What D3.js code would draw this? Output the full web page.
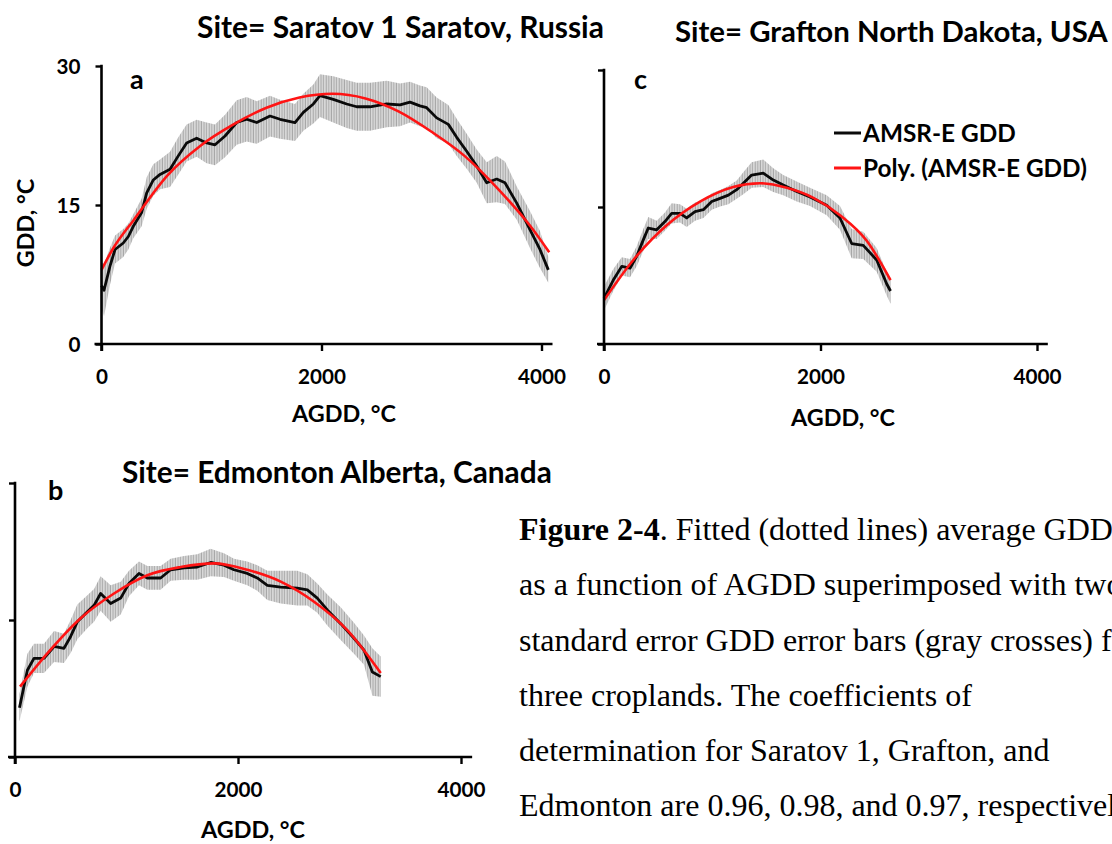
<!DOCTYPE html>
<html>
<head>
<meta charset="utf-8">
<script src="https://cdn.jsdelivr.net/npm/d3@7"></script>
<style>
  html, body { margin: 0; padding: 0; background: #fff; }
  svg { display: block; }
  .lbl { font-family: Lato, "Open Sans", sans-serif; font-weight: 700; fill: #000; }
  .cap { font-family: "Liberation Serif", "DejaVu Serif", serif; fill: #000; }
</style>
</head>
<body>
<svg id="fig" width="1112" height="844"></svg>
<script>
// ---- Saratov 1 (panel a): mean GDD, error half-width, and poly fit ----
const satAgdd = [0, 23, 77, 123, 198, 244, 289, 365, 411, 471, 532, 623, 698, 774, 865, 956, 1032, 1123, 1229, 1320, 1411, 1532, 1623, 1759, 1835, 1926, 1986, 2107, 2229, 2320, 2441, 2593, 2714, 2805, 2895, 2956, 3047, 3153, 3229, 3320, 3411, 3502, 3593, 3668, 3775, 3895, 3986, 4062];
const satGdd  = [6.3, 5.8, 8.4, 10.2, 10.9, 11.6, 12.7, 14.2, 16.3, 17.7, 18.3, 18.85, 20.3, 21.7, 22.2, 21.7, 21.5, 22.45, 23.9, 24.25, 23.9, 24.6, 24.25, 23.9, 25.0, 25.9, 26.8, 26.4, 25.9, 25.6, 25.6, 25.9, 25.8, 26.1, 25.7, 25.5, 24.4, 23.7, 22.3, 20.8, 19.2, 17.4, 17.8, 17.4, 15.2, 12.35, 10.2, 8.0];
const satErr  = [2.5, 2.8, 2.0, 1.5, 1.5, 1.4, 1.3, 1.5, 1.7, 1.7, 1.6, 1.9, 2.0, 2.0, 2.0, 2.2, 2.2, 2.3, 2.4, 2.4, 2.3, 2.2, 2.1, 2.0, 2.0, 2.1, 2.3, 2.5, 2.6, 2.6, 2.6, 2.5, 2.3, 2.2, 2.2, 2.2, 2.2, 2.1, 2.0, 1.9, 1.8, 2.2, 2.5, 2.3, 1.8, 2.0, 2.0, 1.4];
const satFitAgdd = [0, 100, 300, 600, 900, 1200, 1500, 1800, 2100, 2400, 2700, 3000, 3300, 3600, 3900, 4070];
const satFitGdd  = [8.0, 10.2, 13.5, 18.2, 21.4, 23.7, 25.5, 26.6, 27.0, 26.5, 25.1, 22.9, 20.3, 16.8, 12.7, 9.9];

// ---- Grafton (panel c) ----
const grfAgdd = [0, 86, 164, 240, 302, 363, 409, 487, 563, 625, 702, 764, 841, 918, 995, 1072, 1149, 1226, 1287, 1364, 1471, 1564, 1656, 1780, 1903, 2057, 2180, 2288, 2395, 2519, 2611, 2647];
const grfGdd  = [5.0, 7.0, 8.5, 8.3, 9.6, 11.4, 12.7, 12.5, 13.4, 14.3, 14.3, 13.8, 14.5, 14.7, 15.6, 15.95, 16.3, 16.9, 17.6, 18.5, 18.7, 17.95, 17.4, 16.7, 16.1, 15.2, 13.8, 11.0, 10.8, 9.2, 6.6, 5.8];
const grfErr  = [1.3, 1.2, 1.0, 1.0, 1.1, 1.2, 1.2, 1.0, 1.0, 1.1, 1.0, 1.0, 1.0, 0.9, 0.9, 0.9, 1.0, 1.0, 1.2, 1.4, 1.5, 1.3, 1.1, 1.1, 1.0, 1.1, 1.3, 1.6, 1.5, 1.3, 1.3, 1.4];
const grfFitAgdd = [0, 271, 579, 887, 1194, 1441, 1688, 1934, 2180, 2427, 2647];
const grfFitGdd  = [4.8, 9.2, 13.0, 15.6, 17.2, 17.6, 17.1, 16.0, 14.1, 11.3, 7.0];

// ---- Edmonton (panel b) ----
const edmAgdd = [40, 111, 170, 260, 350, 439, 499, 559, 649, 709, 768, 858, 948, 1022, 1112, 1187, 1306, 1396, 1516, 1635, 1755, 1874, 1964, 2083, 2173, 2263, 2383, 2532, 2622, 2711, 2801, 2921, 3040, 3130, 3205, 3280];
const edmGdd  = [5.4, 9.5, 10.8, 10.8, 12.1, 11.9, 13.2, 14.8, 15.9, 16.6, 17.9, 16.8, 17.4, 19.0, 20.1, 19.6, 19.6, 20.5, 20.7, 20.8, 21.3, 21.0, 20.5, 20.1, 19.6, 18.8, 18.6, 18.5, 18.3, 17.4, 16.1, 14.6, 13.0, 11.7, 9.3, 8.8];
const edmErr  = [1.5, 1.8, 1.6, 1.6, 1.7, 1.6, 1.8, 1.9, 1.8, 1.8, 1.9, 2.0, 1.8, 1.4, 1.3, 1.3, 1.3, 1.2, 1.3, 1.4, 1.5, 1.3, 1.2, 1.3, 1.4, 1.6, 1.8, 1.9, 1.7, 1.6, 1.7, 1.8, 1.7, 1.6, 2.6, 2.2];
const edmFitAgdd = [45, 290, 589, 888, 1187, 1486, 1785, 2083, 2383, 2682, 2980, 3280];
const edmFitGdd  = [7.7, 11.35, 15.2, 17.9, 19.9, 20.8, 21.2, 20.5, 19.2, 17.0, 13.9, 9.2];

// ---- axes, labels and text ----
const xTicks = [0, 2000, 4000];
const yTicks = [0, 15, 30];
const xDomain = [0, 4100];
const yDomain = [0, 30];
const titles = {
  a: "Site= Saratov 1 Saratov, Russia",
  c: "Site= Grafton North Dakota, USA",
  b: "Site= Edmonton Alberta, Canada"
};
const xTitle = "AGDD, \u00B0C";
const yTitle = "GDD, \u00B0C";
const legendLabels = ["AMSR-E GDD", "Poly. (AMSR-E GDD)"];
const captionBold = "Figure 2-4";
const captionLines = [
  ". Fitted (dotted lines) average GDD",
  "as a function of AGDD superimposed with two",
  "standard error GDD error bars (gray crosses) for",
  "three croplands. The coefficients of",
  "determination for Saratov 1, Grafton, and",
  "Edmonton are 0.96, 0.98, and 0.97, respectively."
];

const svg = d3.select("#fig");
svg.append("rect").attr("width", 1112).attr("height", 844).attr("fill", "#fff");

// vertical hatch used for the error-bar bands
const defs = svg.append("defs");
const pat = defs.append("pattern").attr("id", "errHatch")
  .attr("patternUnits", "userSpaceOnUse").attr("width", 2.6).attr("height", 10);
pat.append("rect").attr("width", 2.6).attr("height", 10).attr("fill", "#e0e0e0");
pat.append("rect").attr("x", 0.6).attr("width", 1.2).attr("height", 10).attr("fill", "#a8a8a8");

// scale a text node so that it spans a given width
function fitWidth(sel, target) {
  sel.style("font-size", "100px");
  const w = sel.node().getComputedTextLength();
  const fs = 100 * target / w;
  sel.style("font-size", fs + "px");
  return fs;
}
function sizeFor(text, cls, target) {
  const t = svg.append("text").attr("class", cls).text(text);
  const fs = fitWidth(t, target);
  t.remove();
  return fs;
}

const tickFs = sizeFor("4000", "lbl", 48);
const axTitleFs = sizeFor(xTitle, "lbl", 104);

function panel(cfg) {
  const x = d3.scaleLinear().domain(xDomain).range([cfg.x0, cfg.x0 + cfg.pxPerUnit * xDomain[1]]);
  const y = d3.scaleLinear().domain(yDomain).range([cfg.y0, cfg.y30]);
  const g = svg.append("g");

  const pts = cfg.agdd.map((a, i) => ({ a, v: cfg.gdd[i], e: cfg.err[i] }));
  const fit = cfg.fitAgdd.map((a, i) => ({ a, v: cfg.fitGdd[i] }));

  // error band
  g.append("path").datum(pts)
    .attr("fill", "url(#errHatch)")
    .attr("d", d3.area().x(d => x(d.a)).y0(d => y(d.v - d.e)).y1(d => y(d.v + d.e)));

  // mean GDD
  g.append("path").datum(pts)
    .attr("fill", "none").attr("stroke", "#0a0a0a").attr("stroke-width", 2.8)
    .attr("stroke-linejoin", "round")
    .attr("d", d3.line().x(d => x(d.a)).y(d => y(d.v)));

  // polynomial trend
  g.append("path").datum(fit)
    .attr("fill", "none").attr("stroke", "#ff1414").attr("stroke-width", 2.6)
    .attr("d", d3.line().x(d => x(d.a)).y(d => y(d.v)).curve(d3.curveMonotoneX));

  // axes
  const ax = g.append("g").attr("transform", `translate(0,${cfg.y0})`)
    .call(d3.axisBottom(x).tickValues(xTicks).tickSize(7).tickSizeOuter(0).tickFormat(d3.format("d")));
  ax.select(".domain").remove();
  ax.selectAll(".tick line").attr("stroke", "#000").attr("stroke-width", 2.4);
  ax.selectAll(".tick text").attr("class", "lbl").attr("y", 33).attr("dy", "0.35em")
    .style("font-size", tickFs + "px");

  const ay = g.append("g").attr("transform", `translate(${cfg.x0},0)`)
    .call(d3.axisLeft(y).tickValues(yTicks).tickSize(6).tickSizeOuter(0).tickPadding(15)
      .tickFormat(cfg.yLabels ? d3.format("d") : () => ""));
  ay.select(".domain").remove();
  ay.selectAll(".tick line").attr("stroke", "#000").attr("stroke-width", 2.4);
  ay.selectAll(".tick text").attr("class", "lbl").attr("dy", "0.35em")
    .style("font-size", tickFs + "px");

  g.append("line").attr("x1", cfg.x0 - 7).attr("x2", x(xDomain[1]))
    .attr("y1", cfg.y0).attr("y2", cfg.y0).attr("stroke", "#000").attr("stroke-width", 2.6);
  g.append("line").attr("x1", cfg.x0).attr("x2", cfg.x0)
    .attr("y1", cfg.y0 + 7).attr("y2", y(30) - 1.2).attr("stroke", "#000").attr("stroke-width", 2.6);

  // titles and letters
  const t = g.append("text").attr("class", "lbl").attr("x", cfg.title.x).attr("y", cfg.title.y)
    .attr("dy", "0.35em").text(cfg.title.text);
  fitWidth(t, cfg.title.w);

  g.append("text").attr("class", "lbl").attr("x", cfg.letter.x).attr("y", cfg.letter.y)
    .attr("dy", "0.35em").style("font-size", "27px").text(cfg.letter.text);

  g.append("text").attr("class", "lbl").attr("text-anchor", "middle")
    .attr("x", cfg.xTitle.x).attr("y", cfg.xTitle.y).attr("dy", "0.35em")
    .style("font-size", axTitleFs + "px").text(xTitle);

  return { g, x, y };
}

const pa = panel({
  x0: 101.5, pxPerUnit: 0.11, y0: 344, y30: 66, yLabels: true,
  agdd: satAgdd, gdd: satGdd, err: satErr, fitAgdd: satFitAgdd, fitGdd: satFitGdd,
  title: { text: titles.a, x: 197, y: 28, w: 407 },
  letter: { text: "a", x: 130, y: 80 },
  xTitle: { x: 344, y: 414 }
});
pa.g.append("text").attr("class", "lbl").attr("text-anchor", "middle")
  .attr("transform", "translate(26,223) rotate(-90)").attr("dy", "0.35em")
  .style("font-size", axTitleFs + "px").text(yTitle);

panel({
  x0: 604, pxPerUnit: 0.10825, y0: 344, y30: 70, yLabels: false,
  agdd: grfAgdd, gdd: grfGdd, err: grfErr, fitAgdd: grfFitAgdd, fitGdd: grfFitGdd,
  title: { text: titles.c, x: 675, y: 32, w: 433 },
  letter: { text: "c", x: 634, y: 80 },
  xTitle: { x: 843, y: 418 }
});

panel({
  x0: 15, pxPerUnit: 0.1115, y0: 757, y30: 483, yLabels: false,
  agdd: edmAgdd, gdd: edmGdd, err: edmErr, fitAgdd: edmFitAgdd, fitGdd: edmFitGdd,
  title: { text: titles.b, x: 122, y: 473, w: 430 },
  letter: { text: "b", x: 48, y: 491 },
  xTitle: { x: 253, y: 830 }
});

// legend inside panel c
const legFs = sizeFor(legendLabels[1], "lbl", 224);
const legColors = ["#0a0a0a", "#ff1414"];
legendLabels.forEach((lab, i) => {
  const ly = 133 + i * 35;
  svg.append("line").attr("x1", 834).attr("x2", 861).attr("y1", ly).attr("y2", ly)
    .attr("stroke", legColors[i]).attr("stroke-width", 3);
  svg.append("text").attr("class", "lbl").attr("x", 863).attr("y", ly).attr("dy", "0.35em")
    .style("font-size", legFs + "px").text(lab);
});

// caption
const capFs = sizeFor(captionLines[3], "cap", 453);
const capY = [529, 584, 640, 695, 750, 805];
captionLines.forEach((line, i) => {
  const t = svg.append("text").attr("class", "cap").attr("x", 519).attr("y", capY[i])
    .attr("dy", "0.35em").style("font-size", capFs + "px");
  if (i === 0) {
    t.append("tspan").style("font-weight", 700).text(captionBold);
    t.append("tspan").text(line);
  } else {
    t.text(line);
  }
});
</script>
</body>
</html>
